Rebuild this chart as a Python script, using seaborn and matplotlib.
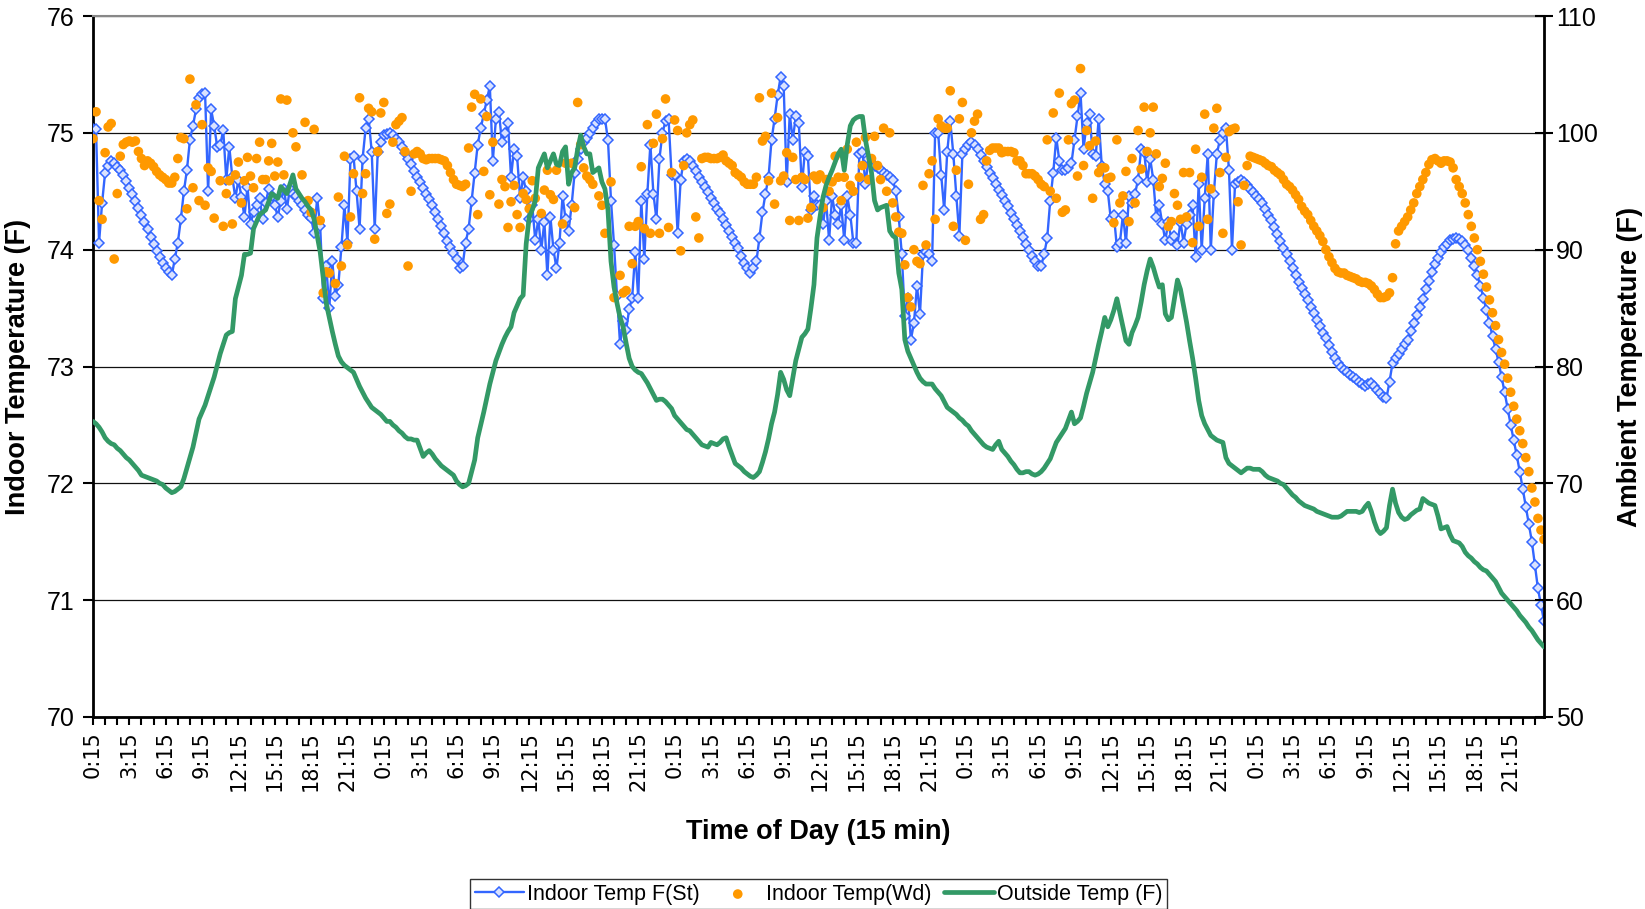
import numpy as np
import pandas as pd
import matplotlib
matplotlib.use("Agg")
import matplotlib.pyplot as plt
import seaborn as sns

nan = np.nan

# ---------------- data ----------------
tick_hours = ["0:15", "3:15", "6:15", "9:15", "12:15", "15:15", "18:15", "21:15"]
n_days = 5

# Outside temperature (F), 15-min samples, one list per day (96 values)
outside_day1 = [
    75.3, 75.1, 74.8, 74.4, 73.9, 73.6, 73.4, 73.3, 73.0, 72.8, 72.5, 72.2,
    72.0, 71.7, 71.4, 71.1, 70.7, 70.6, 70.5, 70.4, 70.3, 70.2, 70.0, 69.9,
    69.6, 69.4, 69.2, 69.3, 69.5, 69.7, 70.4, 71.3, 72.2, 73.1, 74.3, 75.5,
    76.1, 76.7, 77.5, 78.3, 79.1, 80.1, 81.1, 81.9, 82.7, 82.9, 83.0, 85.8,
    86.8, 87.8, 89.6, 89.6, 89.7, 91.8, 92.4, 93.0, 93.2, 93.4, 94.1, 94.8,
    94.6, 94.4, 95.4, 95.1, 94.8, 95.6, 96.4, 95.2, 94.8, 94.4, 94.1, 93.7,
    93.4, 92.6, 91.2, 89.8, 87.6, 85.4, 84.2, 83.0, 81.9, 80.9, 80.4, 80.1,
    79.9, 79.7, 79.5, 78.9, 78.3, 77.8, 77.3, 76.9, 76.5, 76.3, 76.1, 75.9]
outside_day2 = [
    75.6, 75.3, 75.3, 75.0, 74.8, 74.5, 74.3, 74.0, 73.8, 73.8, 73.7, 73.7,
    73.0, 72.3, 72.6, 72.8, 72.5, 72.1, 71.8, 71.5, 71.3, 71.1, 70.9, 70.7,
    70.2, 69.9, 69.7, 69.8, 70.0, 71.0, 72.0, 73.9, 75.0, 76.1, 77.3, 78.5,
    79.5, 80.5, 81.2, 81.9, 82.5, 83.0, 83.4, 84.6, 85.2, 85.8, 86.1, 90.5,
    92.8, 93.4, 94.2, 97.0, 97.6, 98.2, 97.0, 97.6, 98.2, 97.3, 97.2, 98.4,
    98.8, 95.6, 96.6, 97.0, 98.6, 99.8, 98.8, 98.2, 98.2, 96.6, 96.8, 97.0,
    95.8, 95.2, 93.4, 89.0, 86.8, 85.4, 84.2, 83.4, 82.0, 80.7, 80.0, 79.7,
    79.5, 79.4, 79.0, 78.6, 78.1, 77.6, 77.1, 77.2, 77.2, 77.0, 76.7, 76.4]
outside_day3 = [
    75.8, 75.5, 75.2, 74.9, 74.6, 74.5, 74.2, 73.9, 73.6, 73.3, 73.2, 73.1,
    73.5, 73.4, 73.3, 73.5, 73.8, 73.9, 73.1, 72.4, 71.7, 71.5, 71.3, 71.0,
    70.8, 70.6, 70.5, 70.7, 71.0, 71.8, 72.7, 73.8, 75.1, 76.1, 77.6, 79.5,
    78.9, 78.0, 77.5, 79.0, 80.5, 81.5, 82.5, 82.8, 83.2, 85.0, 87.0, 91.0,
    92.8, 94.5, 95.5, 96.2, 96.8, 97.5, 98.2, 98.6, 96.8, 99.0, 100.6, 101.1,
    101.3, 101.4, 101.4, 99.4, 98.0, 96.6, 94.2, 93.4, 93.6, 93.7, 93.8, 91.6,
    91.2, 91.0, 88.0, 86.6, 82.3, 81.3, 80.7, 80.1, 79.5, 79.0, 78.7, 78.5,
    78.5, 78.5, 78.1, 77.8, 77.5, 77.0, 76.5, 76.3, 76.1, 75.9, 75.6, 75.4]
outside_day4 = [
    75.1, 74.9, 74.5, 74.2, 73.9, 73.6, 73.3, 73.1, 73.0, 72.9, 73.3, 73.6,
    72.9, 72.6, 72.3, 71.9, 71.6, 71.2, 70.9, 70.9, 71.0, 71.0, 70.8, 70.7,
    70.8, 71.0, 71.3, 71.7, 72.1, 72.8, 73.5, 73.9, 74.3, 74.7, 75.4, 76.1,
    75.1, 75.3, 75.6, 76.6, 77.7, 78.6, 79.5, 80.7, 81.9, 83.0, 84.2, 83.4,
    84.0, 84.8, 85.8, 84.6, 83.4, 82.2, 81.9, 82.9, 83.5, 84.2, 85.5, 87.0,
    88.2, 89.2, 88.5, 87.6, 86.8, 87.0, 84.5, 84.0, 84.2, 85.8, 87.4, 86.6,
    85.2, 83.8, 82.2, 80.7, 79.0, 77.1, 75.8, 75.1, 74.6, 74.1, 73.9, 73.7,
    73.6, 73.5, 72.2, 71.7, 71.5, 71.3, 71.1, 70.9, 71.1, 71.3, 71.3, 71.2]
outside_day5 = [
    71.2, 71.2, 71.0, 70.7, 70.5, 70.4, 70.3, 70.2, 70.0, 69.9, 69.6, 69.3,
    69.0, 68.8, 68.5, 68.3, 68.1, 68.0, 67.9, 67.8, 67.6, 67.5, 67.4, 67.3,
    67.2, 67.1, 67.1, 67.1, 67.2, 67.4, 67.6, 67.6, 67.6, 67.6, 67.5, 67.6,
    68.0, 68.3, 67.6, 66.7, 66.0, 65.7, 65.9, 66.2, 68.1, 69.5, 68.3, 67.5,
    67.1, 66.9, 67.0, 67.3, 67.5, 67.7, 67.8, 68.7, 68.5, 68.3, 68.2, 68.1,
    67.2, 66.1, 66.2, 66.3, 65.6, 65.1, 65.0, 64.9, 64.6, 64.1, 63.8, 63.6,
    63.3, 63.1, 62.8, 62.6, 62.5, 62.2, 61.9, 61.6, 61.1, 60.6, 60.3, 60.0,
    59.7, 59.4, 59.1, 58.7, 58.4, 58.1, 57.7, 57.4, 57.0, 56.6, 56.3, 56.0]

# Indoor temperature, thermostat (St)
indoor_st_day1 = [
    75.03, 75.03, 74.06, 74.40, 74.66, 74.72, 74.76, 74.74, 74.71, 74.68, 74.64, 74.59,
    74.53, 74.48, 74.42, 74.36, 74.30, 74.24, 74.18, 74.11, 74.05, 73.99, 73.94, 73.89,
    73.84, 73.81, 73.78, 73.92, 74.06, 74.26, 74.50, 74.68, 74.94, 75.06, 75.20, 75.30,
    75.33, 75.34, 74.50, 75.20, 75.06, 74.88, 74.90, 75.02, 74.60, 74.88, 74.62, 74.44,
    74.60, 74.45, 74.28, 74.54, 74.22, 74.32, 74.38, 74.44, 74.26, 74.40, 74.52, 74.46,
    74.38, 74.28, 74.42, 74.52, 74.35, 74.52, 74.48, 74.46, 74.42, 74.38, 74.34, 74.30,
    74.27, 74.14, 74.44, 74.20, 73.59, 73.86, 73.50, 73.90, 73.60, 73.70, 74.02, 74.38,
    74.06, 74.78, 74.80, 74.50, 74.18, 74.78, 75.04, 75.12, 74.84, 74.18, 74.84, 74.92]
indoor_st_day2 = [
    74.98, 74.99, 75.00, 74.98, 74.95, 74.92, 74.88, 74.83, 74.78, 74.73, 74.67, 74.62,
    74.58, 74.53, 74.48, 74.43, 74.38, 74.32, 74.26, 74.20, 74.14, 74.07, 74.02, 73.97,
    73.92, 73.84, 73.86, 74.06, 74.18, 74.42, 74.66, 74.90, 75.04, 75.16, 75.28, 75.40,
    74.76, 75.12, 75.18, 74.92, 75.00, 75.08, 74.62, 74.86, 74.80, 74.44, 74.62, 74.50,
    74.26, 74.38, 74.08, 74.26, 74.00, 74.24, 73.78, 74.28, 74.00, 73.84, 74.06, 74.46,
    74.26, 74.16, 74.38, 74.66, 74.78, 74.86, 74.92, 74.96, 75.00, 75.04, 75.08, 75.12,
    75.12, 75.12, 74.94, 74.42, 74.04, 73.60, 73.19, 73.39, 73.31, 73.49, 73.59, 73.98,
    73.59, 74.42, 73.92, 74.48, 74.90, 74.48, 74.26, 74.78, 75.00, 75.10, 75.12, 74.64]
indoor_st_day3 = [
    74.64, 74.14, 74.60, 74.76, 74.78, 74.76, 74.72, 74.67, 74.62, 74.58, 74.54, 74.49,
    74.44, 74.40, 74.35, 74.31, 74.26, 74.21, 74.16, 74.11, 74.06, 74.01, 73.95, 73.89,
    73.84, 73.80, 73.84, 73.90, 74.10, 74.32, 74.48, 74.62, 74.94, 75.12, 75.32, 75.48,
    75.40, 74.58, 75.16, 74.94, 75.14, 75.08, 74.54, 74.84, 74.80, 74.34, 74.46, 74.38,
    74.38, 74.22, 74.42, 74.08, 74.46, 74.30, 74.22, 74.38, 74.08, 74.46, 74.30, 74.06,
    74.06, 74.82, 74.84, 74.56, 74.78, 74.74, 74.72, 74.70, 74.68, 74.66, 74.64, 74.62,
    74.60, 74.50, 74.28, 73.96, 73.43, 73.59, 73.23, 73.37, 73.69, 73.45, 73.96, 73.98,
    73.96, 73.90, 75.00, 75.00, 74.64, 74.34, 74.84, 75.10, 74.82, 74.46, 74.12, 74.82]
indoor_st_day4 = [
    74.86, 74.90, 74.92, 74.90, 74.86, 74.81, 74.76, 74.71, 74.66, 74.61, 74.56, 74.51,
    74.47, 74.42, 74.37, 74.31, 74.26, 74.21, 74.16, 74.11, 74.05, 74.00, 73.95, 73.90,
    73.86, 73.86, 73.96, 74.10, 74.42, 74.66, 74.96, 74.76, 74.68, 74.68, 74.70, 74.74,
    74.94, 75.14, 75.34, 74.86, 75.08, 75.16, 74.82, 74.80, 75.12, 74.72, 74.56, 74.50,
    74.26, 74.30, 74.02, 74.06, 74.30, 74.06, 74.46, 74.40, 74.48, 74.60, 74.86, 74.84,
    74.58, 74.78, 74.60, 74.28, 74.38, 74.22, 74.08, 74.24, 74.08, 74.12, 74.04, 74.24,
    74.06, 74.22, 74.30, 74.38, 73.94, 74.56, 74.00, 74.44, 74.82, 74.00, 74.48, 74.82,
    74.94, 75.00, 75.04, 74.68, 74.00, 74.56, 74.58, 74.60, 74.58, 74.55, 74.52, 74.49]
indoor_st_day5 = [
    74.46, 74.43, 74.40, 74.35, 74.30, 74.25, 74.19, 74.13, 74.07, 74.01, 73.96, 73.90,
    73.84, 73.78, 73.72, 73.67, 73.62, 73.57, 73.51, 73.46, 73.40, 73.35, 73.29, 73.24,
    73.18, 73.12, 73.07, 73.03, 73.00, 72.97, 72.95, 72.93, 72.91, 72.89, 72.87, 72.85,
    72.83, 72.85, 72.86, 72.83, 72.80, 72.77, 72.74, 72.73, 72.87, 73.03, 73.07, 73.11,
    73.15, 73.19, 73.23, 73.30, 73.37, 73.44, 73.51, 73.58, 73.66, 73.73, 73.81, 73.88,
    73.93, 73.98, 74.02, 74.05, 74.08, 74.09, 74.10, 74.09, 74.07, 74.04, 74.00, 73.93,
    73.86, 73.78, 73.69, 73.59, 73.48, 73.37, 73.26, 73.15, 73.04, 72.91, 72.78, 72.64,
    72.50, 72.37, 72.24, 72.10, 71.95, 71.80, 71.65, 71.50, 71.30, 71.10, 70.96, 70.82]

# Indoor temperature, second sensor (Wd) -- nan = no reading
indoor_wd_day1 = [
    74.95, 75.18, 74.42, 74.26, 74.83, 75.05, 75.08, 73.92, 74.48, 74.80, 74.90, 74.92,
    74.93, 74.92, 74.93, 74.84, 74.78, 74.72, 74.76, 74.74, 74.71, 74.67, 74.64, 74.62,
    74.60, 74.57, 74.57, 74.62, 74.78, 74.96, 74.95, 74.35, 75.46, 74.53, 75.24, 74.42,
    75.07, 74.38, 74.70, 74.67, 74.27, nan, 74.59, 74.20, 74.48, 74.59, 74.22, 74.64,
    74.75, 74.40, 74.59, 74.79, 74.63, 74.53, 74.78, 74.92, 74.60, 74.60, 74.76, 74.91,
    74.63, 74.75, 75.29, 74.64, 75.28, nan, 75.00, 74.88, nan, 74.64, 75.09, 74.42,
    74.32, 75.03, nan, 74.25, 73.63, 73.81, 73.80, nan, 73.71, 74.45, 73.86, 74.80,
    74.04, 74.28, 74.65, nan, 75.30, 74.48, 74.65, 75.21, 75.18, 74.09, 74.84, 75.17]
indoor_wd_day2 = [
    75.26, 74.31, 74.39, 74.92, 75.07, 75.10, 75.13, 74.84, 73.86, 74.50, 74.82, 74.84,
    74.82, 74.78, 74.77, 74.78, 74.78, 74.78, 74.78, 74.77, 74.76, 74.72, 74.66, 74.60,
    74.56, 74.55, 74.54, 74.56, 74.87, 75.22, 75.33, 74.30, 75.29, 74.67, 75.14, 74.47,
    74.92, nan, 74.39, 74.60, 74.54, 74.19, 74.41, 74.55, 74.30, 74.19, 74.48, 74.43,
    74.35, 74.59, 74.44, nan, 74.31, 74.51, 74.68, 74.47, 74.43, 74.68, nan, 74.22,
    74.74, nan, 74.74, 74.36, 75.26, 74.90, 74.70, 74.63, 74.60, 74.56, nan, 74.46,
    74.38, 74.14, nan, 74.58, 73.59, nan, 73.78, 73.63, 73.65, 74.20, 73.88, 74.20,
    74.24, 74.71, 74.18, 75.07, 74.14, 74.91, 75.16, 74.14, 74.95, 75.29, 74.19, 74.66]
indoor_wd_day3 = [
    75.11, 75.02, 73.99, 74.72, 75.00, 75.07, 75.11, 74.28, 74.10, 74.78, 74.79, 74.79,
    74.78, 74.78, 74.78, 74.79, 74.81, 74.76, 74.74, 74.72, 74.66, 74.64, 74.62, 74.58,
    74.56, 74.56, 74.56, 74.62, 75.30, 74.93, 74.97, 74.59, 75.34, 74.39, 75.13, 74.59,
    74.63, 74.83, 74.25, 74.79, 74.60, 74.25, 74.62, 74.60, 74.27, 74.36, 74.63, 74.60,
    74.64, 74.36, 74.60, 74.50, 74.58, 74.80, 74.62, 74.42, 74.62, 74.86, 74.55, 74.50,
    74.92, 74.62, 74.72, 74.96, 74.60, 74.78, 74.97, 74.72, 74.60, 75.04, 74.50, 75.00,
    74.40, 74.28, 74.15, 74.14, 73.87, 73.59, 73.51, 74.00, 73.90, 73.88, 74.55, 74.04,
    74.65, 74.76, 74.26, 75.12, 75.06, 75.04, 75.04, 75.36, 74.20, 74.68, 75.12, 75.26]
indoor_wd_day4 = [
    74.08, 74.56, 75.00, 75.10, 75.16, 74.26, 74.30, 74.76, 74.85, 74.87, 74.87, 74.87,
    74.83, 74.84, 74.84, 74.84, 74.83, 74.76, 74.76, 74.72, 74.65, 74.65, 74.65, 74.63,
    74.60, 74.56, 74.54, 74.94, 74.50, 75.17, 74.44, 75.34, 74.32, 74.34, 74.94, 75.25,
    75.28, 74.63, 75.55, 74.72, 75.02, 74.89, 74.44, 74.93, 74.66, 74.70, 74.70, 74.61,
    74.62, 74.23, 74.94, 74.40, 74.46, 74.67, 74.24, 74.78, 74.40, 75.02, 74.69, 75.22,
    74.84, 75.00, 75.22, 74.82, 74.54, 74.61, 74.74, 74.20, 74.24, 74.48, 74.38, 74.26,
    74.66, 74.28, 74.66, 74.06, 74.86, 74.20, 74.62, 75.16, 74.26, 74.52, 75.04, 75.21,
    74.66, 74.14, 74.79, 75.01, 75.03, 75.04, 74.41, 74.04, 74.55, 74.72, 74.80, 74.79]
indoor_wd_day5 = [
    74.78, 74.77, 74.76, 74.74, 74.72, 74.71, 74.68, 74.66, 74.64, 74.60, 74.56, 74.54,
    74.51, 74.47, 74.43, 74.37, 74.33, 74.30, 74.25, 74.20, 74.16, 74.12, 74.07, 74.00,
    73.94, 73.89, 73.84, 73.81, 73.80, 73.80, 73.78, 73.77, 73.76, 73.75, 73.73, 73.72,
    73.72, 73.71, 73.69, 73.66, 73.62, 73.59, 73.59, 73.60, 73.63, 73.76, 74.05, 74.16,
    74.20, 74.24, 74.28, 74.34, 74.40, 74.48, 74.54, 74.60, 74.66, 74.73, 74.77, 74.78,
    74.76, 74.74, 74.76, 74.76, 74.75, 74.70, 74.60, 74.54, 74.48, 74.40, 74.30, 74.20,
    74.10, 74.00, 73.90, 73.79, 73.68, 73.57, 73.46, 73.35, 73.23, 73.12, 73.02, 72.90,
    72.78, 72.66, 72.55, 72.45, 72.34, 72.22, 72.10, 71.96, 71.84, 71.70, 71.60, 71.52]

outside = outside_day1 + outside_day2 + outside_day3 + outside_day4 + outside_day5
indoor_st = indoor_st_day1 + indoor_st_day2 + indoor_st_day3 + indoor_st_day4 + indoor_st_day5
indoor_wd = indoor_wd_day1 + indoor_wd_day2 + indoor_wd_day3 + indoor_wd_day4 + indoor_wd_day5

df = pd.DataFrame({
    "step": np.arange(len(outside)),
    "Indoor Temp F(St)": indoor_st,
    "Indoor Temp(Wd)": indoor_wd,
    "Outside Temp (F)": outside,
})

# ---------------- style ----------------
BLUE = "#3366FF"
ORANGE = "#FF9900"
GREEN = "#339966"

sns.set_theme(style="white")
plt.rcParams["font.family"] = ["Liberation Sans", "DejaVu Sans"]
plt.rcParams.update({"text.color": "black", "axes.labelcolor": "black",
                     "xtick.color": "black", "ytick.color": "black"})

W, H = 1645, 909
fig = plt.figure(figsize=(W / 100, H / 100), dpi=100)
L, R, T, B = 93, 1544, 16, 717
ax = fig.add_axes([L / W, 1 - B / H, (R - L) / W, (B - T) / H])
ax2 = ax.twinx()

sns.lineplot(data=df, x="step", y="Indoor Temp F(St)", ax=ax, color=BLUE,
             linewidth=1.7, marker="D", markersize=5.2, markerfacecolor="#d9e2ff",
             markeredgecolor=BLUE, markeredgewidth=1.1, label="Indoor Temp F(St)",
             zorder=3)
sns.scatterplot(data=df, x="step", y="Indoor Temp(Wd)", ax=ax, color=ORANGE,
                s=48, edgecolor="none", label="Indoor Temp(Wd)", zorder=4)
sns.lineplot(data=df, x="step", y="Outside Temp (F)", ax=ax2, color=GREEN,
             linewidth=3.4, label="Outside Temp (F)", zorder=5)

# axes limits / ticks
ax.set_xlim(0, len(outside) - 1)
ax.set_ylim(70, 76)
ax2.set_ylim(50, 110)
ax.set_yticks(np.arange(70, 77, 1))
ax2.set_yticks(np.arange(50, 111, 10))

xlabels = tick_hours * n_days
ax.set_xticks(np.arange(0, len(outside), 12))
ax.set_xticklabels(xlabels, rotation=90, fontsize=15, family=["DejaVu Sans"])
ax.set_xticks(np.arange(0, len(outside), 4), minor=True)
ax.tick_params(axis="x", which="both", direction="out", length=6, width=1.5,
               color="black", bottom=True, pad=4)
ax.tick_params(axis="y", which="major", direction="out", length=7, width=1.5,
               color="black", left=True, labelsize=18, pad=6)
ax2.tick_params(axis="y", which="major", direction="inout", length=13, width=1.5,
                color="black", right=True, labelsize=18, pad=2)

ax.grid(axis="y", color="#111111", linewidth=0.9)
ax.grid(axis="x", visible=False)
ax2.grid(False)
ax.set_axisbelow(True)

for name, sp in ax.spines.items():
    sp.set_visible(True)
    sp.set_color("black")
    sp.set_linewidth(2.0)
ax.spines["top"].set_color("#888888")
ax.spines["top"].set_linewidth(1.5)
ax.spines["right"].set_visible(False)
for name, sp in ax2.spines.items():
    sp.set_visible(name == "right")
ax2.spines["right"].set_color("black")
ax2.spines["right"].set_linewidth(2.0)

ax.set_xlabel("Time of Day (15 min)", fontsize=19.5, fontweight="bold")
ax.set_ylabel("Indoor Temperature (F)", fontsize=19.5, fontweight="bold")
ax2.set_ylabel("Ambient Temperature (F)", fontsize=19.5, fontweight="bold")
ax.xaxis.set_label_coords(0.5, -0.145)
ax.yaxis.set_label_coords(-0.0425, 0.5)
ax2.yaxis.set_label_coords(1.0505, 0.5)

# legend
h1, l1 = ax.get_legend_handles_labels()
h2, l2 = ax2.get_legend_handles_labels()
for a in (ax, ax2):
    if a.get_legend() is not None:
        a.get_legend().remove()
leg = fig.legend(h1 + h2, l1 + l2, loc="lower center", ncol=3, numpoints=1,
                 scatterpoints=1, bbox_to_anchor=(((L + R) / 2) / W, 0.0),
                 fontsize=15.5, frameon=True, fancybox=False, edgecolor="black",
                 borderaxespad=0.0, handlelength=2.3, columnspacing=0.6,
                 handletextpad=0.15, borderpad=0.2)
leg.get_frame().set_linewidth(1.0)

fig.savefig("out.png", dpi=100)
